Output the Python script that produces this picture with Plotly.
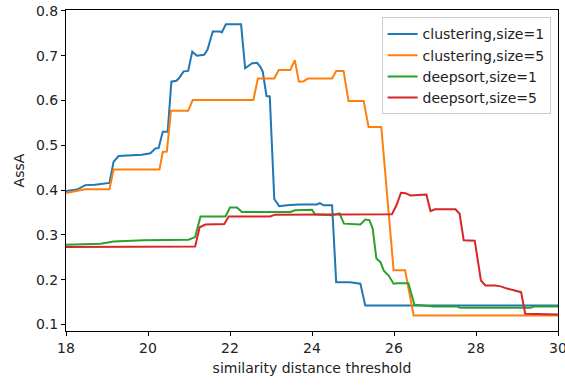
import plotly.graph_objects as go

# clustering, size=1
x_c1 = [18.0, 18.27, 18.47, 18.7, 19.06, 19.16, 19.28, 19.57, 19.85, 20.06, 20.18, 20.26, 20.36, 20.48,
        20.57, 20.69, 20.75, 20.87, 20.98, 21.08, 21.19, 21.37, 21.45, 21.58, 21.76, 21.80, 21.90, 22.27,
        22.37, 22.54, 22.66, 22.74, 22.80, 22.89, 22.97, 23.08, 23.2, 23.39, 23.67, 24.12, 24.19, 24.28,
        24.49, 24.59, 24.93, 25.18, 25.30, 30.0]
y_c1 = [0.398, 0.401, 0.411, 0.412, 0.416, 0.463, 0.476, 0.477, 0.479, 0.482, 0.493, 0.494, 0.530, 0.530,
        0.642, 0.644, 0.649, 0.665, 0.666, 0.709, 0.700, 0.702, 0.713, 0.754, 0.754, 0.752, 0.770, 0.770,
        0.672, 0.683, 0.684, 0.675, 0.664, 0.610, 0.609, 0.380, 0.364, 0.366, 0.368, 0.368, 0.371, 0.366,
        0.366, 0.194, 0.194, 0.191, 0.142, 0.142]

# clustering, size=5
x_c5 = [18.0, 18.15, 18.27, 18.47, 19.06, 19.16, 20.28, 20.36, 20.46, 20.56, 20.98, 21.09, 22.57, 22.68,
        23.08, 23.19, 23.47, 23.58, 23.68, 23.80, 23.90, 24.49, 24.59, 24.77, 24.89, 25.26, 25.38, 25.69,
        25.99, 26.27, 26.48, 30.0]
y_c5 = [0.3935, 0.396, 0.398, 0.402, 0.402, 0.446, 0.446, 0.485, 0.486, 0.577, 0.577, 0.601, 0.601, 0.649,
        0.649, 0.668, 0.668, 0.690, 0.642, 0.643, 0.649, 0.649, 0.666, 0.666, 0.599, 0.599, 0.541, 0.541,
        0.221, 0.221, 0.120, 0.120]

# deepsort, size=1
x_d1 = [18.0, 18.84, 19.16, 19.89, 20.99, 21.15, 21.28, 21.89, 22.00, 22.17, 22.29, 23.47, 23.59, 24.00,
        24.07, 24.49, 24.67, 24.78, 25.18, 25.30, 25.40, 25.48, 25.57, 25.67, 25.75, 25.87, 25.99, 26.07,
        26.35, 26.50, 26.97, 27.54, 27.62, 29.33, 29.41, 30.0]
y_d1 = [0.278, 0.280, 0.285, 0.288, 0.289, 0.295, 0.341, 0.341, 0.361, 0.361, 0.351, 0.351, 0.355, 0.356,
        0.346, 0.344, 0.348, 0.325, 0.323, 0.334, 0.333, 0.314, 0.247, 0.239, 0.220, 0.209, 0.191, 0.192,
        0.192, 0.144, 0.140, 0.140, 0.137, 0.137, 0.140, 0.140]

# deepsort, size=5
x_d5 = [18.0, 21.15, 21.26, 21.40, 21.86, 21.97, 22.98, 23.10, 25.95, 26.06, 26.17, 26.28, 26.40, 26.79,
        26.89, 27.00, 27.50, 27.60, 27.70, 27.97, 28.12, 28.23, 28.47, 28.60, 28.76, 29.04, 29.10, 29.20, 30.0]
y_d5 = [0.273, 0.274, 0.317, 0.323, 0.324, 0.341, 0.341, 0.345, 0.346, 0.366, 0.394, 0.393, 0.388, 0.390,
        0.353, 0.357, 0.357, 0.347, 0.288, 0.287, 0.198, 0.187, 0.187, 0.185, 0.180, 0.174, 0.172, 0.124, 0.122]

series = [
    ("clustering,size=1", x_c1, y_c1, "#1f77b4"),
    ("clustering,size=5", x_c5, y_c5, "#ff7f0e"),
    ("deepsort,size=1", x_d1, y_d1, "#2ca02c"),
    ("deepsort,size=5", x_d5, y_d5, "#d62728"),
]

x_ticks = [18, 20, 22, 24, 26, 28, 30]
y_ticks = [0.1, 0.2, 0.3, 0.4, 0.5, 0.6, 0.7, 0.8]

fig = go.Figure()
for name, xs, ys, col in series:
    fig.add_trace(go.Scatter(x=xs, y=ys, mode="lines", name=name,
                             line=dict(color=col, width=2)))

FONT = "DejaVu Sans"
axis_common = dict(showline=True, linecolor="black", linewidth=1, mirror=True,
                   ticks="outside", ticklen=4, tickwidth=1, tickcolor="black",
                   showgrid=False, zeroline=False, ticklabeloverflow="allow",
                   automargin=False,
                   tickfont=dict(family=FONT, size=14, color="#222"))

fig.update_layout(
    width=565, height=386,
    margin=dict(l=66, r=7, t=10, b=55),
    paper_bgcolor="white", plot_bgcolor="white",
    font=dict(family=FONT, size=14, color="#222"),
    showlegend=True,
    legend=dict(x=0.985, y=0.977, xanchor="right", yanchor="top",
                bgcolor="rgba(255,255,255,0.8)", bordercolor="#cccccc", borderwidth=1,
                font=dict(family=FONT, size=14, color="#222")),
    xaxis=dict(range=[17.9999, 30.0001], tickvals=x_ticks, ticktext=[str(v) for v in x_ticks],
               title=dict(text="similarity distance threshold", standoff=8,
                          font=dict(family=FONT, size=14, color="#222")),
               **axis_common),
    yaxis=dict(range=[0.0853, 0.802], tickvals=y_ticks, ticktext=[f"{v:.1f}" for v in y_ticks],
               title=dict(text="AssA", standoff=8,
                          font=dict(family=FONT, size=14, color="#222")),
               **axis_common),
)

fig.write_html("out.html")
